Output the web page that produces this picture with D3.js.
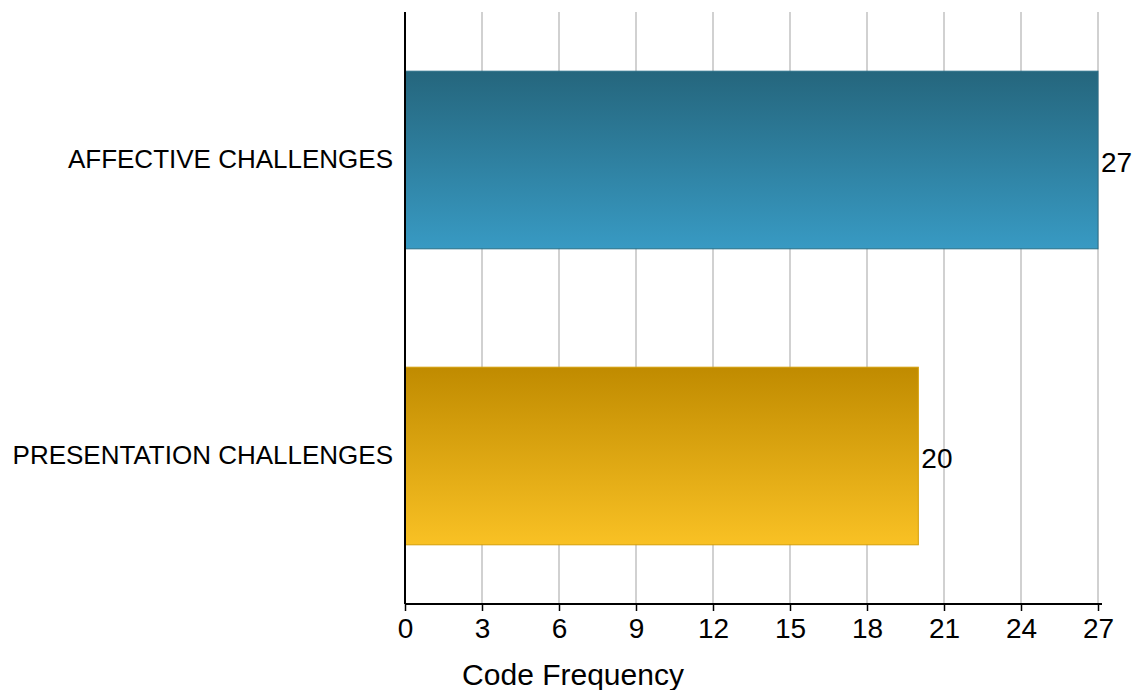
<!DOCTYPE html>
<html>
<head>
<meta charset="utf-8">
<script src="https://cdn.jsdelivr.net/npm/d3@7"></script>
<style>
  html, body { margin: 0; padding: 0; background: #fff; }
  svg text { font-family: "Liberation Sans", Arial, Helvetica, sans-serif; fill: #000; }
</style>
</head>
<body>
<svg id="chart" width="1142" height="690"></svg>
<script>
// Code frequency per challenge category
const categories = ["AFFECTIVE CHALLENGES", "PRESENTATION CHALLENGES"];
const values = [27, 20];
const xTicks = [0, 3, 6, 9, 12, 15, 18, 21, 24, 27];
const axisTitle = "Code Frequency";

const svg = d3.select("#chart");
const W = 1142, H = 690;
const margin = { left: 405, right: 44, top: 12, bottom: 86 };
const plotRight = W - margin.right;
const plotBottom = H - margin.bottom;

const x = d3.scaleLinear().domain([0, 27]).range([margin.left, plotRight]);
const y = d3.scaleBand().domain(categories).range([margin.top, plotBottom])
  .paddingInner(0.4).paddingOuter(0.2);

// vertical gradients for the two bars
const defs = svg.append("defs");
const grads = [
  { id: "g0", top: "#25667d", bottom: "#389ac3", stroke: "#2a6f88" },
  { id: "g1", top: "#c08b00", bottom: "#f9c124", stroke: "#d49e08" }
];
grads.forEach(g => {
  const lg = defs.append("linearGradient").attr("id", g.id)
    .attr("x1", 0).attr("y1", 0).attr("x2", 0).attr("y2", 1);
  lg.append("stop").attr("offset", "0%").attr("stop-color", g.top);
  lg.append("stop").attr("offset", "100%").attr("stop-color", g.bottom);
});

// gridlines
svg.append("g").selectAll("line").data(xTicks.filter(d => d > 0)).join("line")
  .attr("x1", d => x(d)).attr("x2", d => x(d))
  .attr("y1", margin.top).attr("y2", plotBottom)
  .attr("stroke", "#c2c2c2").attr("stroke-width", 1.5);

// bars
svg.append("g").selectAll("rect").data(categories).join("rect")
  .attr("x", x(0))
  .attr("y", d => y(d))
  .attr("width", (d, i) => x(values[i]) - x(0))
  .attr("height", y.bandwidth())
  .attr("fill", (d, i) => `url(#${grads[i].id})`)
  .attr("stroke", (d, i) => grads[i].stroke)
  .attr("stroke-width", 1);

// value labels
svg.append("g").selectAll("text").data(categories).join("text")
  .attr("x", (d, i) => x(values[i]) + 3)
  .attr("y", d => y(d) + y.bandwidth() / 2)
  .attr("dy", "0.44em")
  .attr("font-size", 28)
  .text((d, i) => values[i]);

// x axis
const xAxis = svg.append("g").attr("transform", `translate(0,${plotBottom})`)
  .call(d3.axisBottom(x).tickValues(xTicks).tickSize(7).tickSizeOuter(0).tickPadding(7));
xAxis.select(".domain").attr("stroke", "#000").attr("stroke-width", 2)
  .attr("d", `M${margin.left},0H${plotRight + 4}`);
xAxis.selectAll(".tick line").attr("stroke", "#000").attr("stroke-width", 1.5);
xAxis.selectAll(".tick text").attr("font-size", 28).attr("font-family", "Liberation Sans, Arial, sans-serif").attr("fill", "#000");

// y axis
const yAxis = svg.append("g").attr("transform", `translate(${margin.left},0)`)
  .call(d3.axisLeft(y).tickSize(0).tickPadding(12));
yAxis.select(".domain").attr("stroke", "#000").attr("stroke-width", 2)
  .attr("d", `M0,${margin.top}V${plotBottom}`);
yAxis.selectAll(".tick text").attr("font-size", 26).attr("font-family", "Liberation Sans, Arial, sans-serif").attr("fill", "#000");

// axis title
svg.append("text")
  .attr("x", 573)
  .attr("y", 685)
  .attr("text-anchor", "middle")
  .attr("font-size", 30)
  .text(axisTitle);
</script>
</body>
</html>
